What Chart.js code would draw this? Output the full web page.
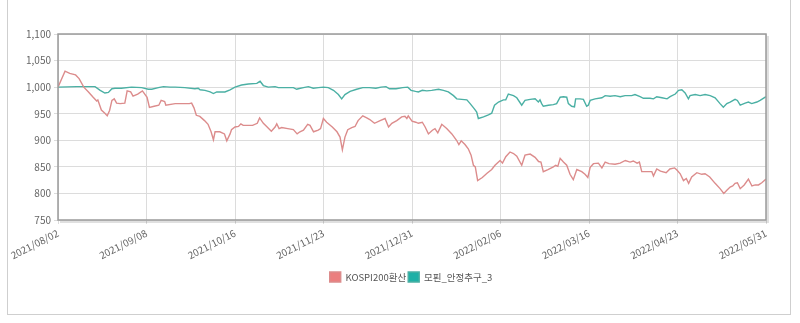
<!DOCTYPE html>
<html>
<head>
<meta charset="utf-8">
<script src="https://cdn.jsdelivr.net/npm/chart.js@4/dist/chart.umd.min.js"></script>
<style>
    html, body { margin: 0; padding: 0; background: #fff; }
    #wrap { position: relative; width: 800px; height: 323px; overflow: hidden; }
    #box { position: absolute; left: 7px; top: -3px; width: 782px; height: 316px; border: 1px solid #cfcfcf; }
    #perf-compare { position: absolute; left: 0; top: 0; }
</style>
</head>
<body>
<div id="wrap">
    <div id="box"></div>
    <canvas id="perf-compare" width="800" height="323"></canvas>
</div>
<script>
// x positions are days since 2021/08/02
const seriesLabels = ['KOSPI200환산', '모핀_안정추구_3'];
const xTickLabels = ['2021/08/02', '2021/09/08', '2021/10/16', '2021/11/23', '2021/12/31',
    '2022/02/06', '2022/03/16', '2022/04/23', '2022/05/31'];
const yTicks = [750, 800, 850, 900, 950, 1000, 1050, 1100];

const kospiDays = [
    0, 3, 5, 7.5, 9, 11, 13, 15, 16.5, 17,
    18.5, 20, 21, 22, 23, 24, 25, 26.5, 28.5, 29.5,
    31, 32, 34, 36, 38, 39, 41, 43, 44, 45.5,
    46, 50, 52.8, 56, 57, 58, 59, 60.5, 62.5, 64,
    65.3, 66.3, 67, 69, 71, 72, 73.4, 74, 75.5, 77,
    78, 79, 80.5, 83, 85, 86, 87.6, 89, 91, 92.6,
    93.3, 94.3, 95.4, 98, 100.4, 102, 103.2, 104.7, 106.5, 107.5,
    109, 111, 112, 113.2, 114.6, 117, 119, 120.3, 121.3, 122.4,
    123.6, 125.3, 126.7, 128, 130, 131.7, 133, 135, 137.4, 139.5,
    141, 142.4, 144.5, 146.6, 148, 148.8, 149.4, 151, 152.6, 153.7,
    155.4, 156.6, 158, 159.7, 160.8, 162, 163.7, 165.8, 168, 170,
    171, 172, 173.6, 175, 176.2, 177.2, 178, 179, 181, 183,
    185, 186.4, 188.6, 189.6, 191, 192.8, 194.3, 195.7, 197.8, 199.2,
    201.4, 203.5, 205, 206, 207, 209, 211.3, 212.3, 213.2, 214.2,
    215.6, 217, 218.4, 219.8, 221.3, 223.4, 224.8, 226, 227, 228.4,
    230.5, 232, 233.4, 235, 237.6, 239.8, 242, 244, 245.4, 247,
    248, 249, 251.8, 253.3, 254, 255.4, 257, 259.4, 261, 263,
    264, 265.4, 266.8, 268, 269, 270.3, 272.5, 274.6, 276, 278,
    280.3, 282.4, 284, 285.3, 286.7, 287.8, 288.8, 289.8, 291, 292.7,
    294.5, 296, 297.4, 298.8, 300.2, 302
];
const kospiValues = [
    1000, 1030, 1026, 1023, 1016, 1000, 991, 981, 974, 976,
    957, 951, 946, 956, 975, 978, 970, 969, 970, 993,
    991, 983, 987, 993, 981, 962, 964, 966, 975, 973,
    966, 969, 969, 969, 970, 961, 947, 945, 937, 930,
    916, 901, 916, 916, 912, 899, 912, 920, 925, 926,
    931, 928, 928, 928, 932, 942, 932, 926, 917, 925,
    931, 922, 924, 922, 920, 912, 916, 919, 930, 928,
    916, 919, 922, 941, 934, 925, 916, 906, 882, 906,
    920, 924, 926, 937, 946, 942, 939, 932, 937, 941,
    925, 932, 937, 944, 945, 941, 946, 936, 934, 932,
    934, 925, 912, 919, 922, 914, 930, 922, 912, 900,
    892, 899, 892, 884, 872, 853, 850, 824, 830, 838,
    845, 853, 862, 857, 869, 878, 875, 870, 853, 872,
    874, 868, 860, 859, 841, 845, 850, 853, 851, 866,
    859, 853, 836, 826, 845, 841, 836, 830, 849, 856,
    857, 848, 859, 856, 855, 857, 862, 859, 861, 857,
    859, 841, 841, 841, 833, 846, 842, 839, 846, 848,
    844, 837, 824, 828, 819, 831, 839, 836, 837, 831,
    819, 809, 800, 806, 812, 814, 819, 820, 809, 816,
    827, 814, 816, 816, 820, 827
];

const fundDays = [
    0, 8, 15.8, 18, 20, 21.5, 23, 24.3, 27, 31.4,
    35.7, 38.5, 40, 42.8, 45, 47.8, 50, 54.1, 58.4, 59.8,
    60.6, 62.7, 64.9, 66.3, 67.7, 71.2, 73.4, 75.5, 78.3, 81.2,
    84.8, 86.2, 87.6, 89.7, 92.6, 94, 96.8, 100.4, 101.8, 102.5,
    104.7, 106.8, 108.9, 111.1, 113.2, 115.3, 117.5, 119.6, 121, 122.4,
    124.6, 127.4, 130, 132.8, 135.6, 137.8, 139.9, 141.4, 144.2, 147,
    149.2, 150.6, 152.5, 153.7, 155.4, 157.3, 159.4, 162.3, 164.4, 166.5,
    168.7, 170.1, 172.2, 174.4, 175.8, 177.6, 178.6, 179.3, 181.5, 183.6,
    185, 186.2, 187.9, 190, 191, 192.1, 194.3, 195.7, 197.8, 199.2,
    201.4, 203.5, 204.9, 205.6, 206.3, 207, 209.2, 211.3, 212.7, 214.2,
    215.6, 217, 217.7, 219.1, 220.3, 220.8, 222.7, 224.1, 225.5, 226.2,
    227, 229.1, 232, 233.4, 235.5, 237.6, 239.8, 241.9, 244.7, 246.1,
    248.3, 249.7, 252.5, 254, 255.4, 257.6, 259.8, 261.1, 263.3, 264.7,
    266.1, 267.5, 268.9, 269.6, 271.8, 273.9, 276, 278.2, 280.3, 282.4,
    283.8, 285.3, 286.7, 288.8, 289.8, 291, 293.1, 294.5, 295.9, 298.1,
    299.5, 302
];
const fundValues = [
    1000, 1001, 1001, 994, 989, 990, 997, 998, 998, 1000,
    999, 996, 996, 999, 1001, 1000, 1000, 999, 997, 998,
    995, 994, 991, 988, 991, 991, 995, 1000, 1004, 1006,
    1007, 1011, 1003, 1000, 1001, 999, 999, 999, 996, 997,
    999, 1001, 998, 999, 1000, 999, 994, 986, 978, 986,
    992, 996, 999, 999, 998, 1000, 1001, 997, 997, 999,
    1000, 994, 992, 991, 994, 993, 994, 996, 994, 991,
    984, 978, 977, 976, 969, 959, 953, 941, 944, 948,
    951, 966, 972, 976, 976, 987, 984, 980, 966, 975,
    977, 978, 972, 976, 969, 964, 966, 967, 969, 981,
    982, 981, 969, 964, 963, 978, 978, 977, 964, 966,
    975, 978, 980, 984, 983, 984, 982, 984, 984, 986,
    982, 979, 979, 978, 982, 980, 978, 982, 987, 994,
    995, 989, 978, 984, 986, 984, 986, 984, 980, 969,
    962, 969, 972, 977, 975, 966, 970, 972, 969, 972,
    975, 982
];

const kospiLine = '#dc8c8c';
const kospiBox = '#eb7f7f';
const fundLine = '#4bb0a4';
const fundBox = '#1fb0a6';

// gray frame round the plot, with a soft shadow on right and bottom
const plotFrame = {
    id: 'plotFrame',
    afterLayout(chart) {
        // legend sits a little right of the plot centre in the original
        chart.legend.left += 28;
        chart.legend.right += 28;
    },
    afterDatasetsDraw(chart) {
        const {ctx, chartArea: a} = chart;
        ctx.save();
        ctx.strokeStyle = 'rgba(0,0,0,0.12)';
        ctx.lineWidth = 2;
        ctx.beginPath();
        ctx.moveTo(a.right + 2, a.top + 2);
        ctx.lineTo(a.right + 2, a.bottom + 2);
        ctx.lineTo(a.left + 2, a.bottom + 2);
        ctx.stroke();
        ctx.strokeStyle = '#9a9a9a';
        ctx.lineWidth = 1.5;
        ctx.strokeRect(a.left, a.top, a.width, a.height);
        ctx.restore();
    }
};

class PerformanceChart {

    constructor(canvas = 'perf-compare') {
        this.kospiDataset = {
            label: seriesLabels[0],
            data: kospiDays.map((d, i) => ({x: d, y: kospiValues[i]})),
            borderColor: kospiLine,
            backgroundColor: kospiBox,
            borderWidth: 1.4,
            pointRadius: 0,
            tension: 0
        };
        this.fundDataset = {
            label: seriesLabels[1],
            data: fundDays.map((d, i) => ({x: d, y: fundValues[i]})),
            borderColor: fundLine,
            backgroundColor: fundBox,
            borderWidth: 1.4,
            pointRadius: 0,
            tension: 0
        };
        this.canvas = canvas;
        this.attachChart();
    }

    attachChart() {
        const family = "'Noto Sans CJK KR', 'Noto Sans', sans-serif";
        const font = {family: family, size: 10};
        this.chart = new Chart(this.canvas, {
            type: 'line',
            data: {
                datasets: [this.kospiDataset, this.fundDataset]
            },
            options: {
                responsive: false,
                animation: false,
                layout: {
                    padding: {left: 0, right: 34, top: 34, bottom: 31}
                },
                plugins: {
                    legend: {
                        position: 'bottom',
                        labels: {
                            boxWidth: 11,
                            boxHeight: 10,
                            padding: 2,
                            color: '#555',
                            font: {family: family, size: 9.5}
                        }
                    },
                    tooltip: {
                        enabled: false
                    }
                },
                scales: {
                    x: {
                        type: 'linear',
                        min: 0,
                        max: 302,
                        border: {display: false},
                        grid: {color: '#dcdcdc', tickLength: 4},
                        ticks: {
                            stepSize: 37.75,
                            autoSkip: false,
                            minRotation: 27,
                            maxRotation: 27,
                            color: '#666',
                            font: font,
                            callback: function(value, index) {
                                return xTickLabels[index];
                            }
                        },
                        afterFit: function(scale) {
                            scale.height = 50;
                        }
                    },
                    y: {
                        min: yTicks[0],
                        max: yTicks[yTicks.length - 1],
                        border: {display: false},
                        grid: {color: '#dcdcdc', tickLength: 4},
                        ticks: {
                            stepSize: 50,
                            color: '#666',
                            font: font,
                            callback: function(value) {
                                return value.toLocaleString('en-US');
                            }
                        },
                        afterFit: function(scale) {
                            scale.width = 58;
                        }
                    }
                }
            },
            plugins: [plotFrame]
        });
    }
}

new PerformanceChart();
</script>
</body>
</html>
